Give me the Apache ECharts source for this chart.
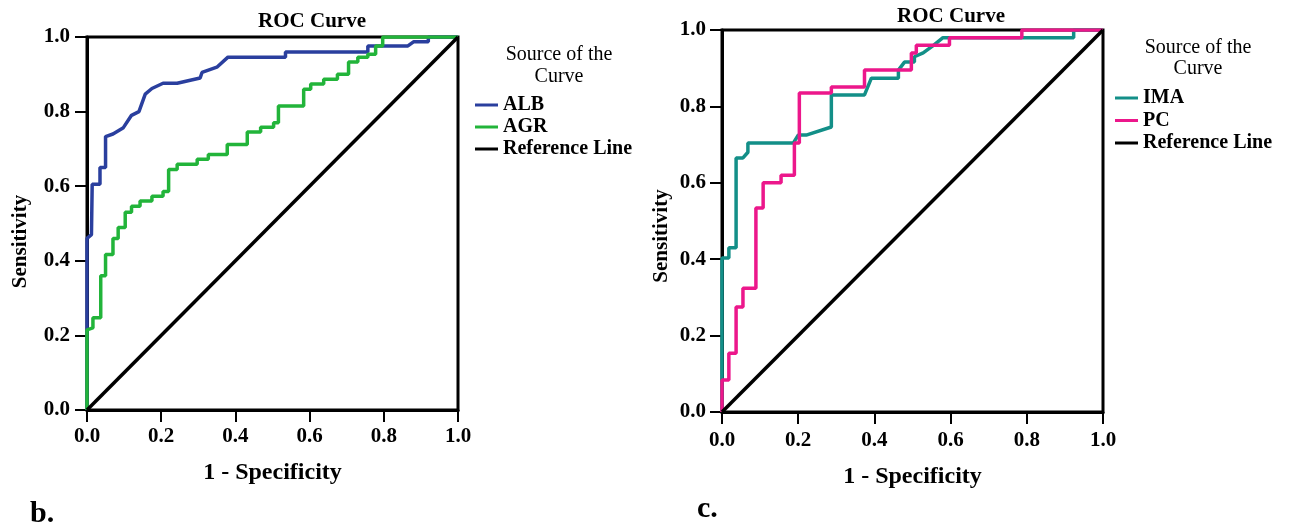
<!DOCTYPE html>
<html><head><meta charset="utf-8">
<script src="https://cdn.jsdelivr.net/npm/echarts@6/dist/echarts.min.js"></script>
<style>html,body{margin:0;padding:0;background:#fff}#c{width:1290px;height:527px}</style>
</head><body><div id="c"></div>
<script>
const tickValues = [0, 0.2, 0.4, 0.6, 0.8, 1.0];
const albPoints = [[0,0],[0,0.46],[0.012,0.47],[0.014,0.47],[0.014,0.605],[0.035,0.605],[0.035,0.65],[0.05,0.65],[0.05,0.733],[0.07,0.74],[0.098,0.757],[0.12,0.79],[0.14,0.80],[0.157,0.847],[0.175,0.862],[0.205,0.876],[0.243,0.876],[0.305,0.89],[0.31,0.905],[0.35,0.919],[0.38,0.946],[0.535,0.946],[0.535,0.96],[0.757,0.96],[0.757,0.976],[0.865,0.976],[0.88,0.987],[0.92,0.987],[0.92,1],[1,1]];
const agrPoints = [[0,0],[0,0.215],[0.016,0.22],[0.016,0.247],[0.037,0.247],[0.037,0.36],[0.05,0.36],[0.05,0.417],[0.07,0.417],[0.07,0.46],[0.084,0.46],[0.084,0.489],[0.103,0.489],[0.103,0.53],[0.12,0.53],[0.12,0.546],[0.143,0.546],[0.143,0.56],[0.175,0.56],[0.175,0.573],[0.205,0.573],[0.205,0.586],[0.22,0.586],[0.22,0.645],[0.243,0.645],[0.243,0.659],[0.297,0.659],[0.297,0.672],[0.327,0.672],[0.327,0.685],[0.378,0.685],[0.378,0.712],[0.432,0.712],[0.432,0.745],[0.468,0.745],[0.468,0.758],[0.503,0.758],[0.503,0.77],[0.516,0.77],[0.516,0.815],[0.584,0.815],[0.584,0.86],[0.603,0.86],[0.603,0.874],[0.638,0.874],[0.638,0.887],[0.675,0.887],[0.675,0.9],[0.705,0.9],[0.705,0.933],[0.73,0.933],[0.73,0.946],[0.757,0.946],[0.757,0.954],[0.778,0.954],[0.778,0.976],[0.797,0.976],[0.797,1],[1,1]];
const imaPoints = [[0,0],[0,0.403],[0.018,0.403],[0.018,0.43],[0.037,0.43],[0.037,0.665],[0.055,0.665],[0.068,0.68],[0.068,0.704],[0.187,0.704],[0.2,0.725],[0.221,0.725],[0.287,0.746],[0.287,0.83],[0.374,0.83],[0.392,0.874],[0.463,0.874],[0.463,0.895],[0.479,0.916],[0.505,0.916],[0.505,0.93],[0.528,0.94],[0.555,0.96],[0.58,0.98],[0.923,0.98],[0.923,1],[1,1]];
const pcPoints = [[0,0],[0,0.084],[0.018,0.084],[0.018,0.154],[0.037,0.154],[0.037,0.275],[0.055,0.275],[0.055,0.324],[0.089,0.324],[0.089,0.534],[0.108,0.534],[0.108,0.6],[0.155,0.6],[0.155,0.62],[0.19,0.62],[0.19,0.704],[0.203,0.704],[0.203,0.835],[0.287,0.835],[0.287,0.851],[0.374,0.851],[0.374,0.895],[0.497,0.895],[0.497,0.94],[0.51,0.94],[0.51,0.96],[0.597,0.96],[0.597,0.98],[0.787,0.98],[0.787,1],[1,1]];
const refPoints = [[0,0],[1,1]];
const seriesNames = ['ALB','AGR','IMA','PC','Reference Line'];
const chartTitle = 'ROC Curve';
const legendTitle = 'Source of the\nCurve';
const xName = '1 - Specificity';
const yName = 'Sensitivity';
const panelLabels = ['b.','c.'];

const FONT = '"Liberation Serif", "Times New Roman", serif';
const colors = {ALB:'#2a3f9e', AGR:'#22b43a', IMA:'#138f88', PC:'#ec178b', ref:'#000'};

function mkX(idx, gap, margin){
  return {type:'value', gridIndex:idx, min:0, max:1, interval:0.2,
    name:xName, nameLocation:'middle', nameGap:gap,
    nameTextStyle:{fontFamily:FONT, fontWeight:'bold', fontSize:24, color:'#000'},
    axisLine:{show:true, onZero:false, lineStyle:{color:'#000', width:3}},
    axisTick:{show:true, length:12, lineStyle:{color:'#000', width:2}},
    axisLabel:{margin:margin, fontFamily:FONT, fontWeight:'bold', fontSize:21, color:'#000', formatter:v=>v.toFixed(1)},
    splitLine:{show:false}};
}
function mkY(idx, gap, margin, shift){
  return {type:'value', gridIndex:idx, min:0, max:1, interval:0.2,
    name:yName, nameLocation:'middle', nameGap:gap, nameRotate:90,
    nameTextStyle:{fontFamily:FONT, fontWeight:'bold', fontSize:21, color:'#000', padding:[0, shift, 0, 0]},
    axisLine:{show:true, onZero:false, lineStyle:{color:'#000', width:3}},
    axisTick:{show:true, length:12, lineStyle:{color:'#000', width:2}},
    axisLabel:{margin:margin, fontFamily:FONT, fontWeight:'bold', fontSize:21, color:'#000', formatter:v=>v.toFixed(1)},
    splitLine:{show:false}};
}
function line(name, data, color, idx, w){
  return {name:name, type:'line', xAxisIndex:idx, yAxisIndex:idx, data:data, showSymbol:false, symbol:'none',
    lineStyle:{color:color, width:w}, itemStyle:{color:color}, animation:false, z:3};
}
const chart = echarts.init(document.getElementById('c'), null, {renderer:'canvas'});
chart.setOption({
  backgroundColor:'#fff',
  animation:false,
  title:[
    {text:chartTitle, left:307, top:6, textAlign:'center', textStyle:{fontFamily:FONT, fontWeight:'bold', fontSize:21, color:'#000'}},
    {text:chartTitle, left:946, top:1, textAlign:'center', textStyle:{fontFamily:FONT, fontWeight:'bold', fontSize:21, color:'#000'}},
    {text:legendTitle, left:554, top:39, textAlign:'center', textStyle:{fontFamily:FONT, fontWeight:'normal', fontSize:20, lineHeight:22, color:'#000'}},
    {text:legendTitle, left:1193, top:32, textAlign:'center', textStyle:{fontFamily:FONT, fontWeight:'normal', fontSize:20, lineHeight:21, color:'#000'}},
    {text:panelLabels[0], left:25, top:494, textStyle:{fontFamily:FONT, fontWeight:'bold', fontSize:30, color:'#000'}},
    {text:panelLabels[1], left:692, top:489, textStyle:{fontFamily:FONT, fontWeight:'bold', fontSize:30, color:'#000'}}
  ],
  legend:[
    {orient:'vertical', left:470, top:90, itemWidth:23, itemHeight:3, itemGap:2, icon:'rect',
     data:[seriesNames[0], seriesNames[1], seriesNames[4]],
     textStyle:{fontFamily:FONT, fontWeight:'bold', fontSize:20, color:'#000'}, selectedMode:false},
    {orient:'vertical', left:1110, top:83, itemWidth:23, itemHeight:3, itemGap:2.5, icon:'rect',
     data:[seriesNames[2], seriesNames[3], seriesNames[4]],
     textStyle:{fontFamily:FONT, fontWeight:'bold', fontSize:20, color:'#000'}, selectedMode:false}
  ],
  grid:[
    {left:87, top:37, width:371, height:373, show:true, borderColor:'#000', borderWidth:3, backgroundColor:'transparent'},
    {left:722, top:30, width:381, height:382, show:true, borderColor:'#000', borderWidth:3, backgroundColor:'transparent'}
  ],
  xAxis:[mkX(0, 51, 16), mkX(1, 53, 18)],
  yAxis:[mkY(0, 56, 17, 36), mkY(1, 50, 16, 30)],
  series:[
    line(seriesNames[0], albPoints, colors.ALB, 0, 3.5),
    line(seriesNames[1], agrPoints, colors.AGR, 0, 3.5),
    line(seriesNames[4], refPoints, colors.ref, 0, 3.5),
    line(seriesNames[2], imaPoints, colors.IMA, 1, 3.5),
    line(seriesNames[3], pcPoints, colors.PC, 1, 3.5),
    line(seriesNames[4], refPoints, colors.ref, 1, 3.5)
  ]
});
</script></body></html>
